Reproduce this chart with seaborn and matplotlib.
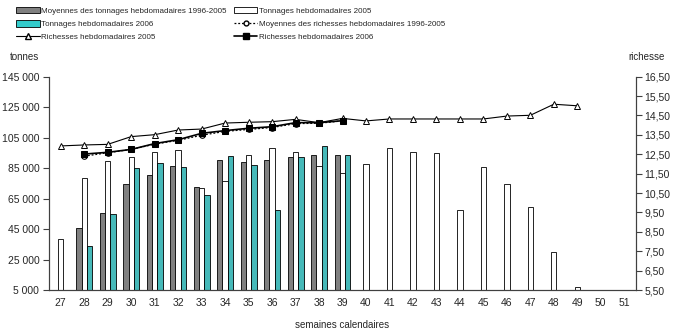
import numpy as np
import pandas as pd
import matplotlib
matplotlib.use('Agg')
import matplotlib.pyplot as plt
import seaborn as sns
from matplotlib import font_manager
from matplotlib.lines import Line2D
from matplotlib.patches import Patch
from matplotlib.ticker import FuncFormatter, FixedLocator

# ── Data ─────────────────────────────────────────
weeks = list(range(27, 52))

# tonnes
ton_moy = [np.nan, 45500, 55500, 74500, 80500, 86200, 72600, 90000, 88800, 90000, 92100, 93400, 93400,
           np.nan, np.nan, np.nan, np.nan, np.nan, np.nan, np.nan, np.nan, np.nan, np.nan, np.nan, np.nan]
ton_2005 = [38300, 78300, 89500, 92100, 95400, 96700, 71700, 76500, 93400, 98000, 95400, 86200, 81600,
            87500, 98000, 95400, 94700, 57300, 85500, 74400, 59300, 29750, 6800, np.nan, np.nan]
ton_2006 = [np.nan, 33700, 54700, 84900, 88200, 85500, 67400, 92800, 86900, 57300, 92100, 99300, 93400,
            np.nan, np.nan, np.nan, np.nan, np.nan, np.nan, np.nan, np.nan, np.nan, np.nan, np.nan, np.nan]

# richesse
rich_2005 = [12.93, 12.98, 13.01, 13.41, 13.51, 13.75, 13.80, 14.11, 14.15, 14.18, 14.30, 14.13, 14.35,
             14.22, 14.32, 14.32, 14.32, 14.32, 14.32, 14.47, 14.51, 15.08, 15.00, np.nan, np.nan]
rich_moy = [np.nan, 12.40, 12.58, 12.75, 13.02, 13.22, 13.48, 13.68, 13.78, 13.88, 14.08, 14.10, 14.22,
            np.nan, np.nan, np.nan, np.nan, np.nan, np.nan, np.nan, np.nan, np.nan, np.nan, np.nan, np.nan]
rich_2006 = [np.nan, 12.51, 12.60, 12.75, 13.05, 13.25, 13.58, 13.72, 13.84, 13.92, 14.13, 14.13, 14.23,
             np.nan, np.nan, np.nan, np.nan, np.nan, np.nan, np.nan, np.nan, np.nan, np.nan, np.nan, np.nan]

lab_moy = 'Moyennes des tonnages hebdomadaires 1996-2005'
lab_2005 = 'Tonnages hebdomadaires 2005'
lab_2006 = 'Tonnages hebdomadaires 2006'
lab_rmoy = 'Moyennes des richesses hebdomadaires 1996-2005'
lab_r2005 = 'Richesses hebdomadaires 2005'
lab_r2006 = 'Richesses hebdomadaires 2006'

GREY = '#808080'
CYAN = '#33CCCC'

# ── Style ─────────────────────────────────────────
sns.set_theme(style='white')
plt.rcParams['font.family'] = ['Liberation Sans', 'DejaVu Sans']
plt.rcParams['font.size'] = 7

# narrow face for the legend if there is one
try:
    font_manager.findfont('Liberation Sans Narrow', fallback_to_default=False)
    legend_font = {'family': 'Liberation Sans Narrow', 'size': 7.5}
except ValueError:
    legend_font = {'family': 'Liberation Sans', 'size': 5.8}

df = pd.DataFrame({
    'semaine': [str(w) for w in weeks] * 3,
    'tonnes': ton_moy + ton_2005 + ton_2006,
    'serie': [lab_moy] * 25 + [lab_2005] * 25 + [lab_2006] * 25,
})

fig = plt.figure(figsize=(6.78, 3.33), dpi=100)
ax = fig.add_axes([49 / 678, 1 - 290 / 333, (636 - 49) / 678, (290 - 76.7) / 333])

sns.barplot(data=df, x='semaine', y='tonnes', hue='serie',
            hue_order=[lab_moy, lab_2005, lab_2006],
            palette=[GREY, 'white', CYAN], width=0.68, dodge=True,
            edgecolor='black', linewidth=0.6, errorbar=None, legend=False, ax=ax)

ax.set_ylim(5000, 145000)
ax.set_yticks(np.arange(5000, 145001, 20000))
ax.yaxis.set_major_formatter(FuncFormatter(lambda v, p: f'{int(v):,}'.replace(',', ' ')))
ax.set_xlim(-0.5, len(weeks) - 0.5)
ax.set_xlabel('semaines calendaires', fontsize=7)
ax.xaxis.set_label_coords(0.5, -0.14)
ax.set_ylabel('')

# richesse on right axis
ax2 = ax.twinx()
pos = np.arange(len(weeks))
sns.lineplot(x=pos, y=rich_2005, ax=ax2, color='black', lw=0.8, marker='^',
             markersize=5, markerfacecolor='white', markeredgecolor='black', markeredgewidth=0.7)
sns.lineplot(x=pos, y=rich_moy, ax=ax2, color='black', lw=0.9, linestyle=(0, (1.5, 1.5)), marker='o',
             markersize=4, markerfacecolor='white', markeredgecolor='black', markeredgewidth=0.8)
sns.lineplot(x=pos, y=rich_2006, ax=ax2, color='black', lw=1.2, marker='s',
             markersize=5, markerfacecolor='black', markeredgecolor='black')
ax2.set_ylim(5.5, 16.5)
ax2.set_yticks(np.arange(5.5, 16.51, 1.0))
ax2.yaxis.set_major_formatter(FuncFormatter(lambda v, p: f'{v:.2f}'.replace('.', ',')))
ax.set_xlim(-0.5, len(weeks) - 0.5)

# spines and ticks
for a in (ax, ax2):
    a.spines['top'].set_visible(False)
    for s in ('left', 'right', 'bottom'):
        a.spines[s].set_color('#404040')
        a.spines[s].set_linewidth(0.8)
    a.grid(False)
ax.tick_params(axis='y', direction='out', length=4, width=0.8, color='#404040', labelsize=7.5, pad=3)
ax2.tick_params(axis='y', direction='out', length=4, width=0.8, color='#404040', labelsize=7.5, pad=2)
ax.tick_params(axis='x', which='major', length=0, labelsize=7.5, pad=6)
ax.xaxis.set_minor_locator(FixedLocator(np.arange(-0.5, len(weeks), 1.0)))
ax.tick_params(axis='x', which='minor', direction='out', length=4, width=0.8, color='#404040')

fig.text(10 / 678, 1 - 57 / 333, 'tonnes', fontsize=7, va='center', ha='left')
fig.text(665 / 678, 1 - 57 / 333, 'richesse', fontsize=7, va='center', ha='right')

# legend
handles = [
    Patch(facecolor=GREY, edgecolor='black', linewidth=0.6, label=lab_moy),
    Patch(facecolor=CYAN, edgecolor='black', linewidth=0.6, label=lab_2006),
    Line2D([], [], color='black', lw=0.8, marker='^', markersize=4,
           markerfacecolor='white', label=lab_r2005),
    Patch(facecolor='white', edgecolor='black', linewidth=0.6, label=lab_2005),
    Line2D([], [], color='black', lw=0.9, linestyle=(0, (1.5, 1.5)), marker='o', markersize=3.5,
           markerfacecolor='white', label=lab_rmoy),
    Line2D([], [], color='black', lw=1.2, marker='s', markersize=4, label=lab_r2006),
]
fig.legend(handles=handles, ncol=2, loc='upper left', bbox_to_anchor=(9 / 678, 1.0),
           frameon=False, prop=legend_font, handlelength=2.9, handleheight=0.8, handletextpad=0.2,
           labelspacing=0.65, columnspacing=0.9, borderpad=0.4)

fig.savefig('out.png', dpi=100)
